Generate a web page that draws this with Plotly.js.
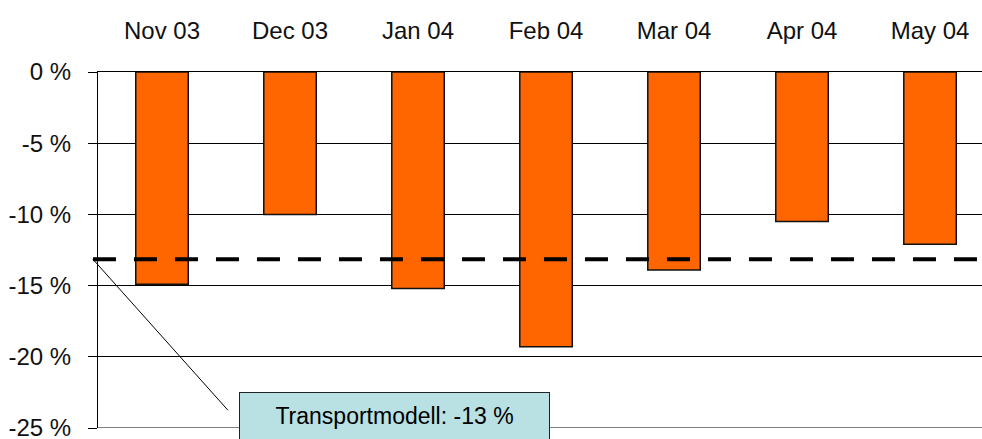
<!DOCTYPE html>
<html>
<head>
<meta charset="utf-8">
<script src="https://cdn.plot.ly/plotly-3.0.1.min.js"></script>
<style>html,body{margin:0;padding:0;background:#fff;}#chart{width:982px;height:439px;}</style>
</head>
<body>
<div id="chart"></div>
<script>
// Data
var categories = ['Nov 03', 'Dec 03', 'Jan 04', 'Feb 04', 'Mar 04', 'Apr 04', 'May 04'];
var values = [-14.9, -10.0, -15.2, -19.3, -13.9, -10.5, -12.1];
var modelValue = -13.15;
var modelLabel = 'Transportmodell: -13 %';
var yTickVals = [0, -5, -10, -15, -20, -25];
var yTickText = ['0 %', '-5 %', '-10 %', '-15 %', '-20 %', '-25 %'];

var labelFont = '"Liberation Sans Narrow", "Arial Narrow", "Liberation Sans", Arial, sans-serif';

var trace = {
  type: 'bar',
  x: categories,
  y: values,
  width: 0.41,
  marker: {color: '#FF6600', line: {color: '#111', width: 1.5}},
  hoverinfo: 'skip'
};

var layout = {
  width: 982, height: 439,
  margin: {l: 98, r: 0, t: 72, b: 11, pad: 0},
  paper_bgcolor: '#fff', plot_bgcolor: '#fff',
  showlegend: false,
  xaxis: {
    type: 'category',
    side: 'top',
    range: [-0.5, 6.406],
    showline: true, linecolor: '#000', linewidth: 1,
    showgrid: false, zeroline: false,
    ticks: '', ticklabelstandoff: 22,
    tickfont: {family: labelFont, size: 24, color: '#111'}
  },
  yaxis: {
    range: [-25, 0],
    tickvals: yTickVals, ticktext: yTickText,
    ticks: 'outside', ticklen: 9, tickcolor: '#000', tickwidth: 1,
    showline: true, linecolor: '#000', linewidth: 1,
    showgrid: true, gridcolor: '#000', gridwidth: 1,
    zeroline: false,
    ticklabelstandoff: 12,
    ticklabeloverflow: 'allow',
    tickfont: {family: labelFont, size: 24, color: '#111'}
  },
  shapes: [
    {type: 'line', xref: 'paper', yref: 'y', x0: -0.0057, x1: 1, y0: modelValue, y1: modelValue,
     line: {color: '#000', width: 4, dash: '23px,18px'}},
    {type: 'line', xref: 'paper', yref: 'y', xsizemode: 'pixel', ysizemode: 'pixel',
     xanchor: -0.0057, yanchor: modelValue, x0: 0, x1: 135, y0: 0, y1: -151,
     line: {color: '#000', width: 1}},
    {type: 'line', xref: 'paper', yref: 'y', x0: 0, x1: 1, y0: -25, y1: -25,
     line: {color: '#000', width: 1}}
  ],
  annotations: [
    {xref: 'paper', yref: 'paper', x: 0.3354, y: 0.0337, xanchor: 'center', yanchor: 'middle',
     text: modelLabel, showarrow: false,
     font: {family: '"Liberation Sans", Arial, sans-serif', size: 23, color: '#000'},
     bgcolor: '#B9E0E3', bordercolor: '#222', borderwidth: 1, borderpad: 0,
     width: 309, height: 46}
  ]
};

Plotly.newPlot('chart', [trace], layout, {staticPlot: true, displayModeBar: false});
</script>
</body>
</html>
